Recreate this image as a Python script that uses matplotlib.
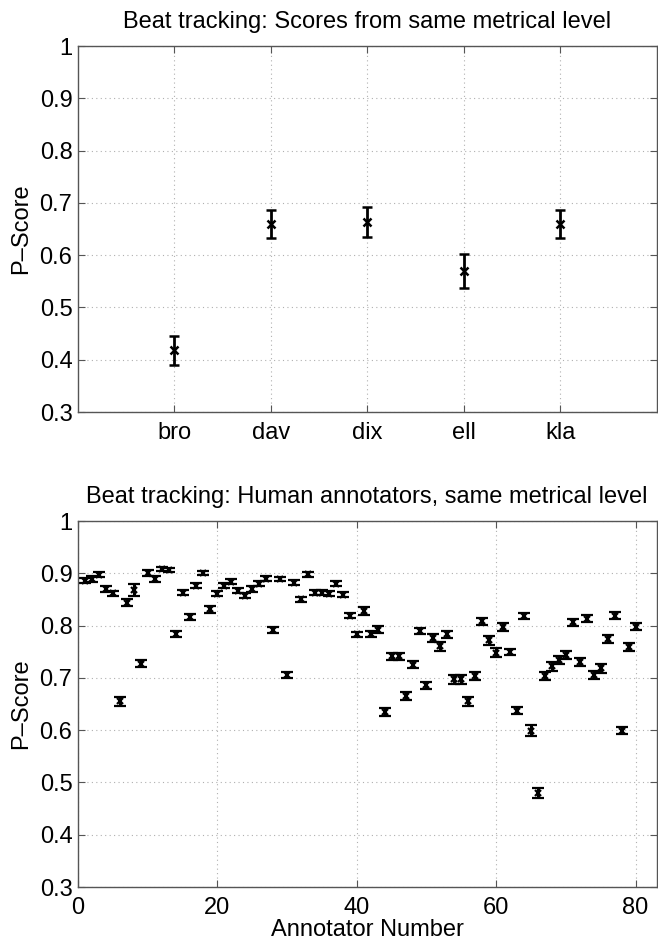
import matplotlib
matplotlib.use("Agg")
import matplotlib.pyplot as plt
import numpy as np

plt.rcParams['font.family'] = ['Liberation Sans', 'DejaVu Sans']

# ---- Top panel data ----
systems = ['bro', 'dav', 'dix', 'ell', 'kla']
sys_scores = [0.418, 0.659, 0.664, 0.570, 0.659]
sys_err = [0.028, 0.027, 0.029, 0.033, 0.027]

# ---- Bottom panel data ----
annotator_ids = list(range(1, 81))
ann_scores = [0.886, 0.889, 0.897, 0.870, 0.862, 0.655, 0.844, 0.868, 0.727, 0.901,
              0.889, 0.908, 0.906, 0.784, 0.863, 0.817, 0.876, 0.900, 0.831, 0.861,
              0.876, 0.884, 0.867, 0.857, 0.870, 0.880, 0.890, 0.791, 0.889, 0.706,
              0.882, 0.850, 0.898, 0.863, 0.863, 0.861, 0.880, 0.859, 0.819, 0.783,
              0.828, 0.784, 0.792, 0.635, 0.741, 0.741, 0.665, 0.725, 0.789, 0.686,
              0.776, 0.760, 0.783, 0.697, 0.697, 0.655, 0.703, 0.808, 0.772, 0.748,
              0.797, 0.750, 0.637, 0.819, 0.599, 0.480, 0.703, 0.722, 0.734, 0.744,
              0.806, 0.730, 0.813, 0.706, 0.718, 0.774, 0.819, 0.599, 0.759, 0.798]
ann_err = [0.005, 0.005, 0.005, 0.005, 0.005, 0.008, 0.006, 0.011, 0.007, 0.006,
           0.005, 0.004, 0.004, 0.005, 0.005, 0.006, 0.005, 0.004, 0.006, 0.005,
           0.005, 0.005, 0.005, 0.005, 0.005, 0.005, 0.004, 0.006, 0.004, 0.006,
           0.005, 0.005, 0.005, 0.005, 0.005, 0.005, 0.005, 0.005, 0.005, 0.005,
           0.007, 0.005, 0.007, 0.008, 0.007, 0.007, 0.007, 0.007, 0.006, 0.007,
           0.008, 0.008, 0.007, 0.008, 0.008, 0.008, 0.008, 0.007, 0.009, 0.009,
           0.007, 0.006, 0.007, 0.006, 0.010, 0.010, 0.008, 0.008, 0.008, 0.008,
           0.006, 0.008, 0.007, 0.008, 0.008, 0.008, 0.007, 0.007, 0.007, 0.006]

FS = 17
spine_col = '#555555'

fig = plt.figure(figsize=(6.58, 9.39), dpi=100)
ax1 = fig.add_axes([78/658, 1 - 412/939, (656.5 - 78)/658, (412 - 46)/939])
ax2 = fig.add_axes([78/658, 1 - 887/939, (656.5 - 78)/658, (887 - 521)/939])


def style(ax):
    for s in ax.spines.values():
        s.set_color(spine_col)
        s.set_linewidth(1.0)
    ax.tick_params(direction='in', length=5, width=0.8, color=spine_col,
                   top=True, right=True, labelsize=FS, labelcolor='black')
    ax.tick_params(axis='y', pad=4)
    ax.tick_params(axis='x', pad=7)
    ax.grid(True, linestyle=(0, (1, 3)), color='#b0b0b0', linewidth=0.8)
    ax.set_axisbelow(True)
    yt = [0.3, 0.4, 0.5, 0.6, 0.7, 0.8, 0.9, 1.0]
    ax.set_yticks(yt)
    ax.set_yticklabels(['0.3', '0.4', '0.5', '0.6', '0.7', '0.8', '0.9', '1'])
    ax.set_ylim(0.3, 1.0)


# Top panel
xpos = np.arange(1, len(systems) + 1)
ax1.errorbar(xpos, sys_scores, yerr=sys_err, fmt='x', color='black', ms=5.5, mew=1.8,
             elinewidth=2.0, capsize=3.5, capthick=2.0)
style(ax1)
ax1.set_xlim(0, 6)
ax1.set_xticks(xpos)
ax1.set_xticklabels(systems)
ax1.set_ylabel('P\u2013Score', fontsize=FS)
ax1.yaxis.set_label_coords(-0.08, 0.5)
ax1.set_title('Beat tracking: Scores from same metrical level', fontsize=FS, pad=13)

# Bottom panel
ax2.errorbar(annotator_ids, ann_scores, yerr=ann_err, fmt='x', color='black', ms=4,
             mew=1.6, elinewidth=2.2, capsize=4, capthick=2.4)
style(ax2)
ax2.set_xlim(0, 83)
ax2.set_xticks([0, 20, 40, 60, 80])
ax2.set_ylabel('P\u2013Score', fontsize=FS)
ax2.yaxis.set_label_coords(-0.08, 0.5)
ax2.set_xlabel('Annotator Number', fontsize=FS, labelpad=0)
ax2.set_title('Beat tracking: Human annotators, same metrical level', fontsize=FS, pad=13)

fig.savefig('out.png', dpi=100)
